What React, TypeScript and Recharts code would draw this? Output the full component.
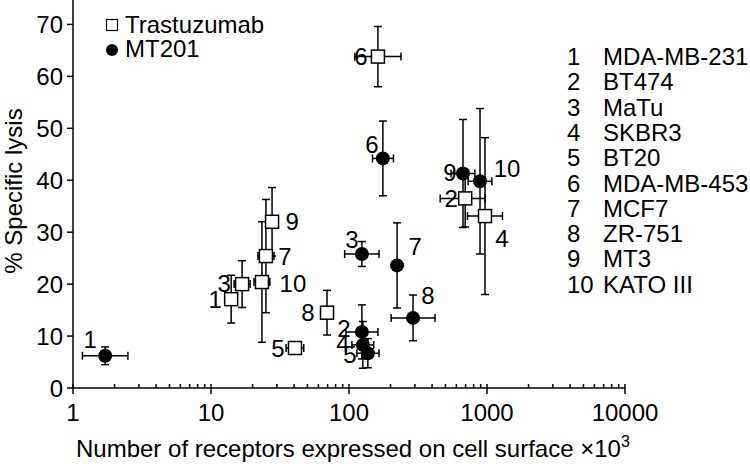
import React from 'react';
import { ScatterChart, Scatter, XAxis, YAxis, ErrorBar, Legend } from 'recharts';

const FONT = '"Liberation Sans", Arial, Helvetica, sans-serif';

// cell lines (key on the right)
const cellIds = [1, 2, 3, 4, 5, 6, 7, 8, 9, 10];
const cellLines = ['MDA-MB-231', 'BT474', 'MaTu', 'SKBR3', 'BT20', 'MDA-MB-453', 'MCF7', 'ZR-751', 'MT3', 'KATO III'];

// Trastuzumab (open squares)
const trastX = [14, 695, 16.8, 967, 40.6, 162, 25.0, 69.3, 27.7, 23.4];
const trastXLo = [14, 458, 14.7, 722, 35, 110, 21.9, 69.3, 27.7, 20.5];
const trastXHi = [14, 970, 19.2, 1295, 47, 238, 28.6, 69.3, 27.7, 26.7];
const trastY = [17.1, 36.5, 20.0, 33.1, 7.7, 63.8, 25.4, 14.5, 32.0, 20.4];
const trastYErr = [4.6, 5.5, 4.5, 15.1, 0.6, 5.8, 10.9, 4.3, 6.6, 11.6];

// MT201 (filled circles)
const mtX = [1.71, 124, 124, 126, 137, 176, 223, 291, 670, 890];
const mtXLo = [1.17, 95, 93, 105, 114, 148, 223, 202, 549, 730];
const mtXHi = [2.5, 162, 165, 151, 165, 210, 223, 420, 817, 1085];
const mtY = [6.2, 10.8, 25.8, 8.3, 6.7, 44.2, 23.6, 13.5, 41.3, 39.8];
const mtYErr = [1.7, 5.2, 2.4, 4.5, 2.8, 7.2, 8.2, 4.4, 10.4, 14];

// axis ticks
const xMajorTicks = [1, 10, 100, 1000, 10000];
const xMinorTicks = [2, 3, 4, 5, 6, 7, 8, 9, 20, 30, 40, 50, 60, 70, 80, 90, 200, 300, 400, 500, 600, 700, 800, 900, 2000, 3000, 4000, 5000, 6000, 7000, 8000, 9000];
const yTicks = [0, 10, 20, 30, 40, 50, 60, 70];

// where each point's number sits relative to the marker (px)
const trastLabelPos: Record<number, [number, number]> = {
  1: [-16, 0], 2: [-14, 0], 3: [-18, -1], 4: [17, 22], 5: [-17, 0],
  6: [-17, 0], 7: [19, 0], 8: [-19, 0], 9: [20, 0], 10: [31, 1],
};
const mtLabelPos: Record<number, [number, number]> = {
  1: [-15, -16], 2: [-18, -3], 3: [-10, -14], 4: [-20, -1], 5: [-18, 1],
  6: [-11, -14], 7: [18, -19], 8: [15, -22], 9: [-13, -1], 10: [27, -13],
};

const buildRows = (xs: number[], lo: number[], hi: number[], ys: number[], yErr: number[]) =>
  cellIds.map((id, i) => ({
    id,
    x: xs[i],
    y: ys[i],
    xErr: [xs[i] - lo[i], hi[i] - xs[i]],
    yErr: yErr[i],
  }));

const trastData = buildRows(trastX, trastXLo, trastXHi, trastY, trastYErr);
const mtData = buildRows(mtX, mtXLo, mtXHi, mtY, mtYErr);

const PointLabel = ({ cx, cy, id, pos }: any) => {
  const [dx, dy] = pos[id] || [0, 0];
  return (
    <text x={cx + dx} y={cy + dy} textAnchor="middle" dominantBaseline="central" fontSize={24} fontFamily={FONT} fill="#000">
      {id}
    </text>
  );
};

const SquareShape = (props: any) => {
  const { cx, cy, payload } = props;
  return (
    <g>
      <rect x={cx - 6.5} y={cy - 6.5} width={13} height={13} fill="#fff" stroke="#000" strokeWidth={1.5} />
      <PointLabel cx={cx} cy={cy} id={payload.id} pos={trastLabelPos} />
    </g>
  );
};

const CircleShape = (props: any) => {
  const { cx, cy, payload } = props;
  return (
    <g>
      <circle cx={cx} cy={cy} r={7} fill="#000" />
      <PointLabel cx={cx} cy={cy} id={payload.id} pos={mtLabelPos} />
    </g>
  );
};

const NoShape = () => <g />;

const XTick = (props: any) => {
  const { x, y, payload } = props;
  const major = xMajorTicks.includes(payload.value);
  return (
    <g>
      <line x1={x} x2={x} y1={y - 4} y2={major ? y + 6 : y} stroke="#000" strokeWidth={1.5} />
      {major && (
        <text x={x} y={y + 33} textAnchor="middle" fontSize={24} fontFamily={FONT} fill="#000">
          {payload.value}
        </text>
      )}
    </g>
  );
};

const LegendContent = () => (
  <svg width={180} height={60} style={{ display: 'block' }}>
    <rect x={6.5} y={11.5} width={11} height={11} fill="#fff" stroke="#000" strokeWidth={1.2} />
    <text x={25} y={25} fontSize={24} fontFamily={FONT} fill="#000">Trastuzumab</text>
    <circle cx={12} cy={42} r={6} fill="#000" />
    <text x={25} y={49} fontSize={24} fontFamily={FONT} fill="#000">MT201</text>
  </svg>
);

export default function App() {
  return (
    <div style={{ position: 'absolute', left: 0, top: 0, width: 750, height: 464, background: '#fff' }}>
      <ScatterChart width={750} height={464} margin={{ top: 0, right: 125, bottom: 0, left: 0 }}>
        <XAxis
          type="number"
          dataKey="x"
          scale="log"
          domain={[1, 10000]}
          allowDataOverflow
          ticks={[...xMajorTicks, ...xMinorTicks]}
          interval={0}
          tick={<XTick />}
          tickLine={false}
          tickSize={0}
          tickMargin={0}
          height={76}
          axisLine={{ stroke: '#000', strokeWidth: 1.5 }}
          label={() => (
            <text x={76} y={457} fontSize={24} fontFamily={FONT} fill="#000">
              Number of receptors expressed on cell surface ×10
              <tspan dy={-10} fontSize={16}>3</tspan>
            </text>
          )}
        />
        <YAxis
          type="number"
          dataKey="y"
          domain={[0, 74.7]}
          allowDataOverflow
          ticks={yTicks}
          interval={0}
          width={73}
          tickSize={6}
          tickMargin={4}
          tick={{ fontSize: 24, fontFamily: FONT, fill: '#000' }}
          tickLine={{ stroke: '#000', strokeWidth: 1.5 }}
          axisLine={{ stroke: '#000', strokeWidth: 1.5 }}
          label={() => (
            <text x={22} y={191} transform="rotate(-90 22 191)" textAnchor="middle" fontSize={24} fontFamily={FONT} fill="#000">
              % Specific lysis
            </text>
          )}
        />
        <Legend
          layout="horizontal"
          verticalAlign="middle"
          align="center"
          wrapperStyle={{ left: 100, top: 8, width: 180, height: 60 }}
          content={<LegendContent />}
        />
        {/* error bars first, markers on top */}
        <Scatter name="Trastuzumab bars" data={trastData} shape={<NoShape />} isAnimationActive={false} legendType="none">
          <ErrorBar dataKey="yErr" direction="y" width={4} stroke="#000" strokeWidth={1.5} isAnimationActive={false} />
          <ErrorBar dataKey="xErr" direction="x" width={4} stroke="#000" strokeWidth={1.5} isAnimationActive={false} />
        </Scatter>
        <Scatter name="MT201 bars" data={mtData} shape={<NoShape />} isAnimationActive={false} legendType="none">
          <ErrorBar dataKey="yErr" direction="y" width={4} stroke="#000" strokeWidth={1.5} isAnimationActive={false} />
          <ErrorBar dataKey="xErr" direction="x" width={4} stroke="#000" strokeWidth={1.5} isAnimationActive={false} />
        </Scatter>
        <Scatter name="Trastuzumab" data={trastData} shape={<SquareShape />} isAnimationActive={false} />
        <Scatter name="MT201" data={mtData} shape={<CircleShape />} isAnimationActive={false} />
      </ScatterChart>
      <svg width={750} height={464} style={{ position: 'absolute', left: 0, top: 0, pointerEvents: 'none' }}>
        {cellLines.map((name, i) => (
          <g key={name}>
            <text x={567} y={65 + i * 25.3} fontSize={24} fontFamily={FONT} fill="#000">{cellIds[i]}</text>
            <text x={603} y={65 + i * 25.3} fontSize={24} fontFamily={FONT} fill="#000">{name}</text>
          </g>
        ))}
      </svg>
    </div>
  );
}
